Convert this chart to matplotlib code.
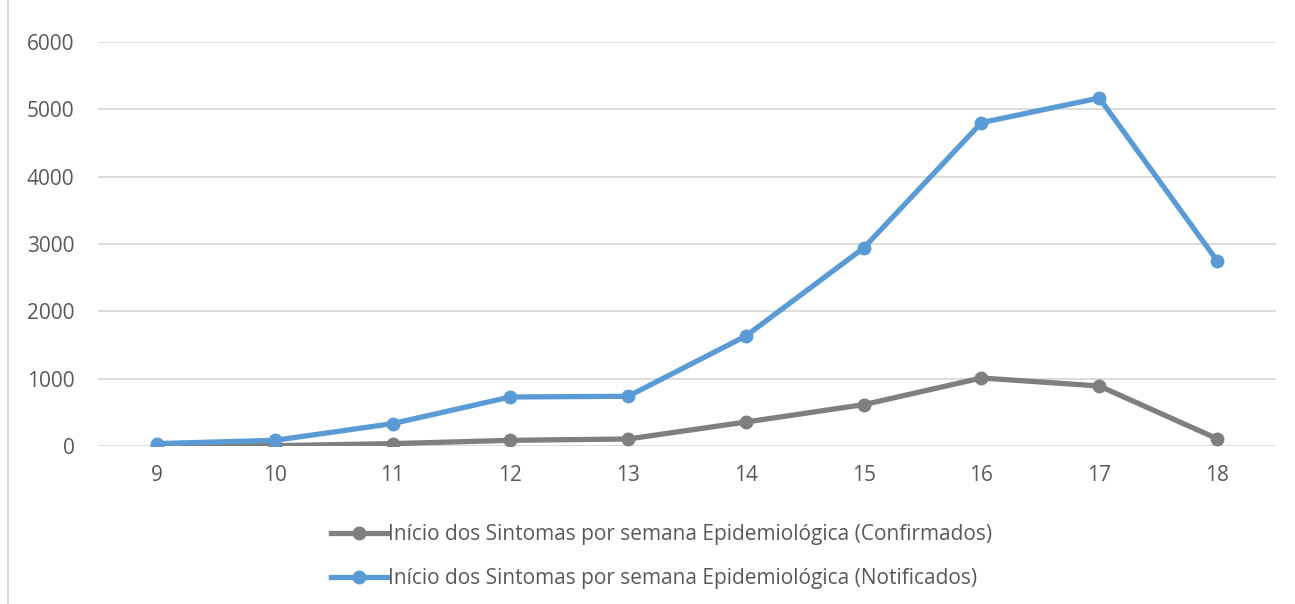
import matplotlib.pyplot as plt
from matplotlib.lines import Line2D

# Semanas epidemiologicas
semanas = ['9', '10', '11', '12', '13', '14', '15', '16', '17', '18']
confirmados = [5, 5, 35, 84, 104, 356, 614, 1010, 891, 109]
notificados = [35, 84, 332, 728, 738, 1634, 2941, 4802, 5168, 2752]

lbl_conf = 'Início dos Sintomas por semana Epidemiológica (Confirmados)'
lbl_notif = 'Início dos Sintomas por semana Epidemiológica (Notificados)'

plt.rcParams['font.family'] = ['Open Sans', 'DejaVu Sans']

fig = plt.figure(figsize=(12.95, 6.04), dpi=100)
ax = fig.add_axes([0.0757, 0.2616, 0.9096, 0.6689])

x = range(len(semanas))
ax.plot(x, confirmados, color='#7F7F7F', lw=3.8, marker='o', ms=9,
        label=lbl_conf, zorder=3)
ax.plot(x, notificados, color='#5B9BD5', lw=3.8, marker='o', ms=9,
        label=lbl_notif, zorder=4)

ax.set_xlim(-0.5, len(semanas) - 0.5)
ax.set_ylim(0, 6000)
ax.set_yticks(range(0, 6001, 1000))
ax.set_xticks(list(x))
ax.set_xticklabels(semanas)
ax.grid(axis='y', color='#D9D9D9', lw=1.3)
ax.set_axisbelow(True)
for s in ax.spines.values():
    s.set_visible(False)
ax.tick_params(length=0, labelsize=15, colors='#595959', pad=14)
ax.tick_params(axis='y', pad=17)

fig.legend(loc='upper center', bbox_to_anchor=(0.511, 0.163), frameon=False,
           fontsize=15, labelcolor='#595959', handlelength=2.7,
           handletextpad=0.05, labelspacing=1.1)

# borda esquerda da area do grafico
fig.add_artist(Line2D([8 / 1295, 8 / 1295], [0, 1], color='#D9D9D9', lw=1.5))

fig.savefig('out.png', dpi=100)
